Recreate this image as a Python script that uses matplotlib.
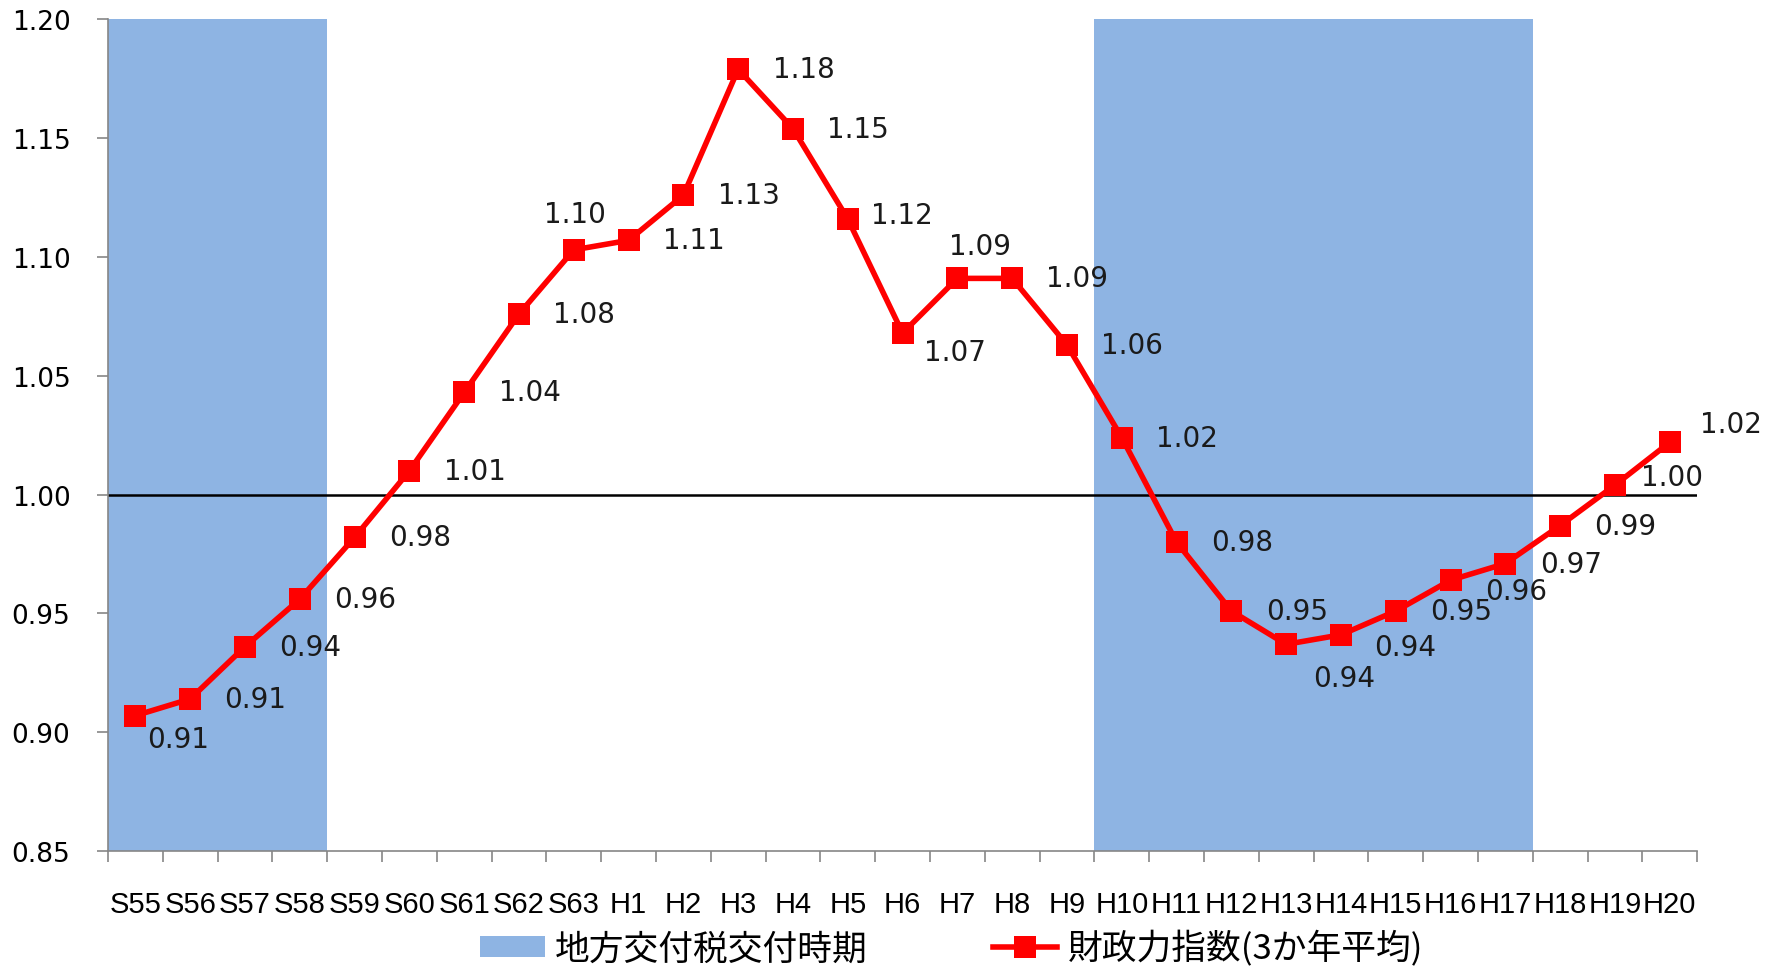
import matplotlib
matplotlib.use("Agg")
import matplotlib.pyplot as plt
from matplotlib.patches import Patch
from matplotlib.lines import Line2D

plt.rcParams['font.family'] = ['DejaVu Sans']

# 年度
years = ['S55', 'S56', 'S57', 'S58', 'S59', 'S60', 'S61', 'S62', 'S63',
         'H1', 'H2', 'H3', 'H4', 'H5', 'H6', 'H7', 'H8', 'H9', 'H10',
         'H11', 'H12', 'H13', 'H14', 'H15', 'H16', 'H17', 'H18', 'H19', 'H20']

# 財政力指数(3か年平均)
index_3yr = [0.907, 0.914, 0.936, 0.956, 0.982, 1.010, 1.043, 1.076, 1.103,
             1.107, 1.126, 1.179, 1.154, 1.116, 1.068, 1.091, 1.091, 1.063, 1.024,
             0.980, 0.951, 0.937, 0.941, 0.951, 0.964, 0.971, 0.987, 1.004, 1.022]

# 地方交付税交付時期 (1 = 交付団体)
kofu = [1, 1, 1, 1, 0, 0, 0, 0, 0,
        0, 0, 0, 0, 0, 0, 0, 0, 0, 1,
        1, 1, 1, 1, 1, 1, 1, 0, 0, 0]

y_min, y_max = 0.85, 1.20

# ラベル位置の微調整 (pt)
default_off = (47, 0)
label_off = {0: (31, -17), 8: (1, 26), 13: (39, 3), 14: (38, -14), 15: (16, 23),
             21: (42, -24), 22: (46, -9), 24: (47, -8), 27: (41, 6), 28: (44, 13)}

fig = plt.figure(figsize=(17.79, 9.70), dpi=100)
ax = fig.add_axes([0.0607, 0.1216, 0.8933, 0.8574])

x = list(range(len(years)))
blue = '#8EB4E3'
red = '#FF0000'

heights = [y_max - y_min if k else 0 for k in kofu]
ax.bar(x, heights, width=1.0, bottom=y_min, color=blue, zorder=1)

ax.axhline(1.0, color='black', lw=1.8, zorder=2)

ax.plot(x, index_3yr, color=red, lw=4, marker='s', markersize=16,
        markeredgewidth=0, zorder=3)

for i, v in enumerate(index_3yr):
    dx, dy = label_off.get(i, default_off)
    ax.annotate(f'{v:.2f}', (i, v), xytext=(dx, dy), textcoords='offset points',
                ha='center', va='center', fontsize=20, color='#1a1a1a', zorder=4)

ax.set_xlim(-0.5, len(years) - 0.5)
ax.set_ylim(y_min, y_max)
ax.set_yticks([0.85, 0.90, 0.95, 1.00, 1.05, 1.10, 1.15, 1.20])
ax.set_yticklabels([f'{t:.2f}' for t in ax.get_yticks()], fontsize=19)

ax.set_xticks([i - 0.5 for i in range(len(years) + 1)])
ax.set_xticklabels([])
ax.set_xticks(x, minor=True)
ax.set_xticklabels(years, minor=True, fontsize=21, fontfamily=['Liberation Sans'])
ax.tick_params(axis='x', which='major', length=8, width=1.2, color='#868686', direction='out')
ax.tick_params(axis='x', which='minor', length=0, pad=28)
ax.tick_params(axis='y', length=8, width=1.2, color='#868686', pad=19)

for s in ['top', 'right']:
    ax.spines[s].set_visible(False)
for s in ['left', 'bottom']:
    ax.spines[s].set_color('#868686')
    ax.spines[s].set_linewidth(1.2)

handles = [Patch(facecolor=blue, edgecolor='none'),
           Line2D([], [], color=red, lw=4, marker='s', markersize=16, markeredgewidth=0)]
labels = ['地方交付税交付時期', '財政力指数(3か年平均)']
fig.legend(handles, labels, loc='center', bbox_to_anchor=(0.535, 0.021), ncol=2,
           frameon=False, prop={'family': ['Noto Sans CJK JP'], 'size': 25},
           handlelength=1.85, handleheight=0.55, handletextpad=0.3, columnspacing=3.6,
           borderpad=0.1)

fig.savefig('out.png', dpi=100)
